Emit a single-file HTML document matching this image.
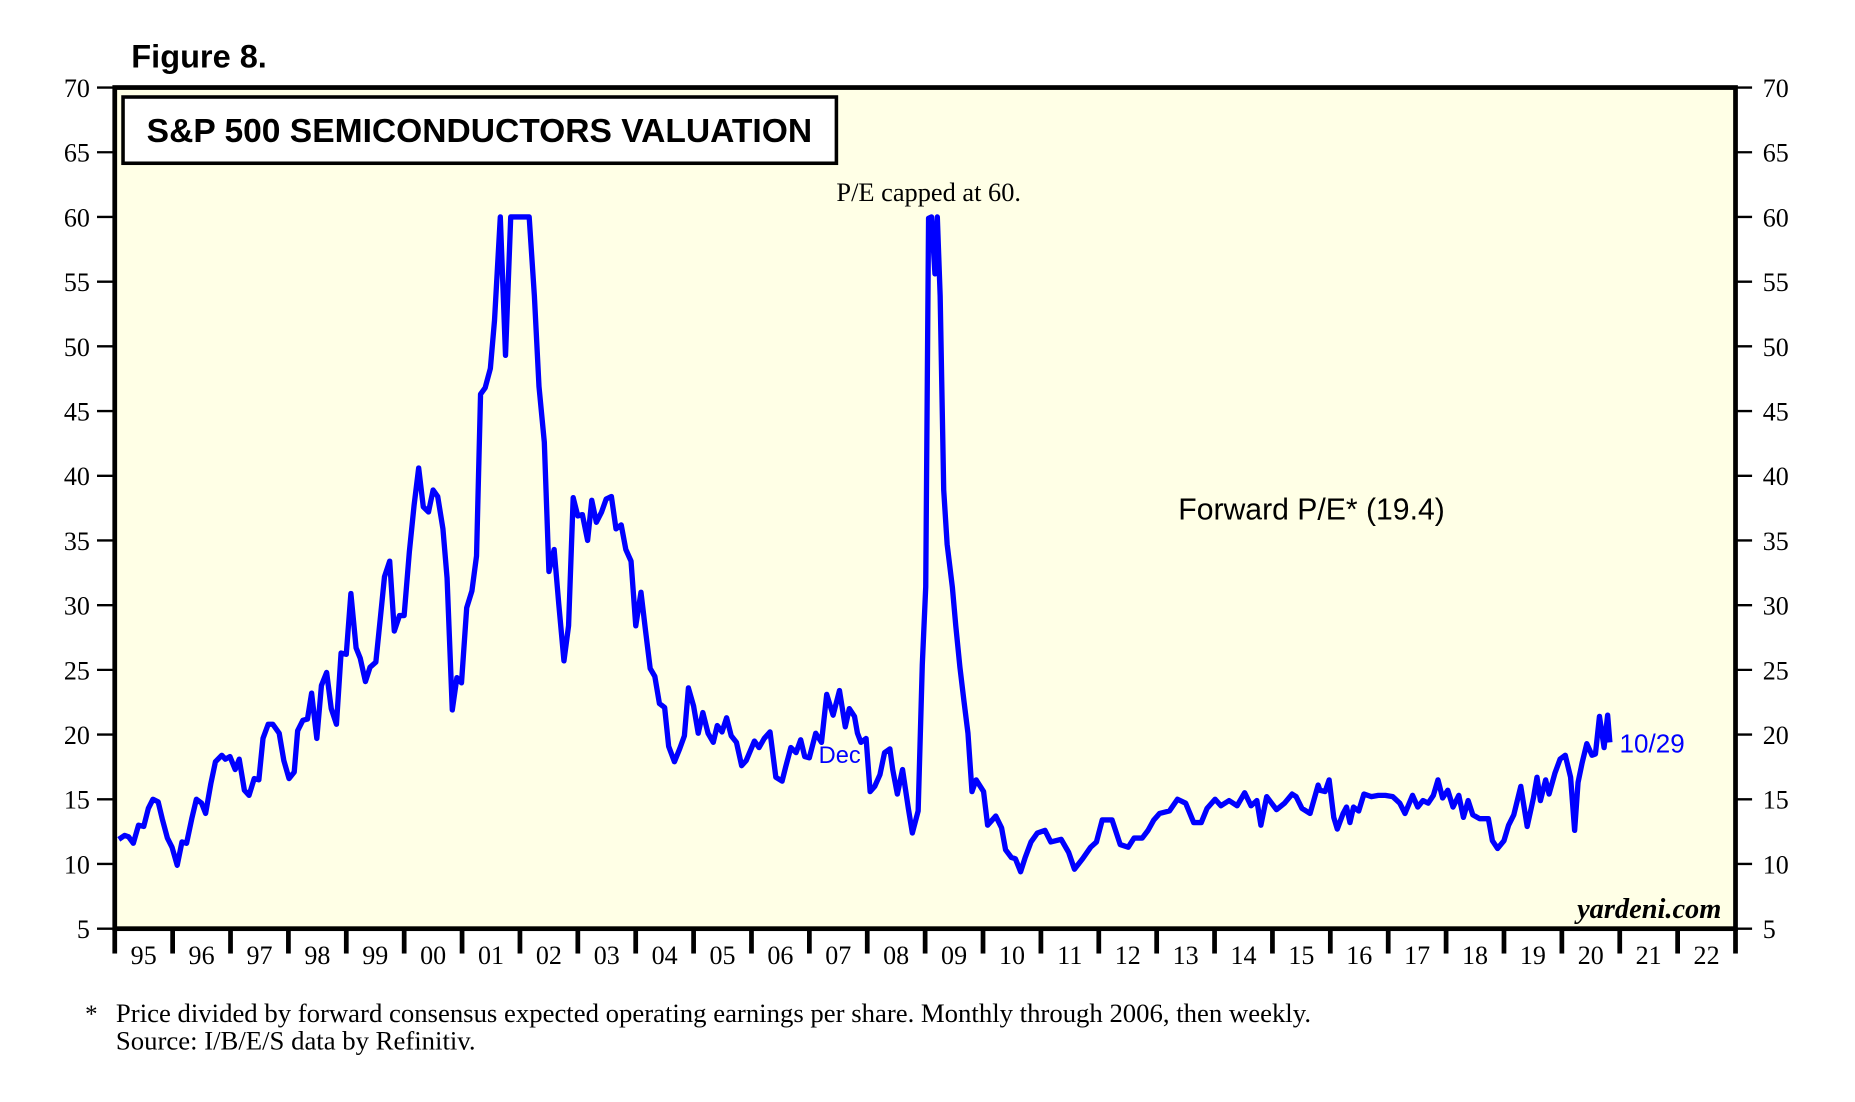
<!DOCTYPE html>
<html><head><meta charset="utf-8"><style>
html,body{margin:0;padding:0;background:#fff;}
svg{display:block;}
.serif{font-family:"Liberation Serif",serif;}
.sans{font-family:"Liberation Sans",sans-serif;}
</style></head><body>
<svg id="chart" width="1855" height="1102" viewBox="0 0 1568 931.5" preserveAspectRatio="none" xmlns="http://www.w3.org/2000/svg">
<text x="111" y="57" class="sans" font-size="27.5" font-weight="bold">Figure 8.</text>
<rect x="97" y="74" width="1370" height="711" fill="#ffffe6" stroke="none"/>
<g id="ticks"></g>
<path id="series" fill="none" stroke="#0000ff" stroke-width="4.5" stroke-linejoin="round"/>
<rect x="97" y="74" width="1370" height="711" fill="none" stroke="#000" stroke-width="4"/>
<rect x="104" y="82" width="603" height="56" fill="#fff" stroke="#000" stroke-width="3"/>
<text x="124" y="120" class="sans" font-size="28.4" font-weight="bold">S&amp;P 500 SEMICONDUCTORS VALUATION</text>
<text x="707" y="170" class="serif" font-size="22.3">P/E capped at 60.</text>
<text x="996" y="439" class="sans" font-size="25.5">Forward P/E* (19.4)</text>
<text x="692" y="645" class="sans" font-size="20" fill="#0000ff">Dec</text>
<text x="1369" y="636" class="sans" font-size="22" fill="#0000ff">10/29</text>
<text x="1455" y="776" text-anchor="end" class="serif" font-size="24" font-weight="bold" font-style="italic">yardeni.com</text>
<text x="72" y="864" class="serif" font-size="21">*</text>
<text x="98" y="864" class="serif" font-size="22.6">Price divided by forward consensus expected operating earnings per share. Monthly through 2006, then weekly.</text>
<text x="98" y="887" class="serif" font-size="22.6">Source: I/B/E/S data by Refinitiv.</text>
</svg>
<script>
const dates=[1995.07,1995.17,1995.24,1995.32,1995.41,1995.50,1995.58,1995.66,1995.75,1995.82,1995.91,1995.99,1996.08,1996.16,1996.24,1996.33,1996.41,1996.50,1996.57,1996.66,1996.74,1996.85,1996.91,1996.99,1997.08,1997.15,1997.24,1997.32,1997.41,1997.49,1997.56,1997.65,1997.73,1997.84,1997.92,1998.01,1998.10,1998.16,1998.25,1998.33,1998.40,1998.49,1998.57,1998.66,1998.74,1998.83,1998.91,1999.00,1999.08,1999.17,1999.24,1999.33,1999.41,1999.51,1999.59,1999.66,1999.75,1999.83,1999.92,2000.00,2000.09,2000.17,2000.25,2000.33,2000.42,2000.50,2000.58,2000.67,2000.74,2000.83,2000.91,2000.99,2001.08,2001.17,2001.25,2001.32,2001.40,2001.49,2001.56,2001.66,2001.75,2001.84,2002.01,2002.16,2002.25,2002.33,2002.42,2002.50,2002.59,2002.67,2002.76,2002.84,2002.92,2003.00,2003.08,2003.17,2003.24,2003.32,2003.41,2003.49,2003.58,2003.66,2003.75,2003.83,2003.92,2004.00,2004.09,2004.17,2004.25,2004.33,2004.41,2004.50,2004.57,2004.67,2004.76,2004.84,2004.91,2005.00,2005.08,2005.16,2005.25,2005.34,2005.41,2005.49,2005.57,
2005.65,2005.74,2005.83,2005.91,2006.05,2006.13,2006.22,2006.32,2006.42,2006.53,2006.59,2006.68,2006.77,2006.85,2006.92,2007.00,2007.11,2007.21,2007.30,2007.41,2007.52,2007.62,2007.69,2007.78,2007.83,2007.89,2007.98,2008.05,2008.13,2008.22,2008.30,2008.39,2008.44,2008.52,2008.61,2008.71,2008.78,2008.88,2008.95,2009.01,2009.06,2009.11,2009.17,2009.21,2009.26,2009.32,2009.38,2009.47,2009.53,2009.60,2009.67,2009.74,2009.81,2009.88,2010.01,2010.08,2010.22,2010.32,2010.39,2010.49,2010.56,2010.65,2010.73,2010.83,2010.94,2011.07,2011.17,2011.35,2011.48,2011.58,2011.72,2011.86,2011.96,2012.06,2012.23,2012.37,2012.51,2012.61,2012.75,2012.85,2012.95,2013.05,2013.22,2013.36,2013.50,2013.64,2013.77,2013.87,2014.01,2014.11,2014.25,2014.39,2014.52,2014.63,2014.73,2014.80,2014.90,2015.07,2015.21,2015.34,2015.41,2015.51,2015.65,2015.79,
2015.82,2015.91,2015.98,2016.06,2016.12,2016.22,2016.28,2016.34,2016.40,2016.49,2016.58,2016.71,2016.83,2016.95,2017.08,2017.20,2017.29,2017.42,2017.51,2017.60,2017.69,2017.78,2017.86,2017.94,2018.03,2018.12,2018.22,2018.30,2018.38,2018.46,2018.58,2018.73,2018.80,2018.89,2019.00,2019.08,2019.17,2019.29,2019.40,2019.51,2019.57,2019.63,2019.72,2019.78,2019.88,2019.97,2020.06,2020.15,2020.22,2020.28,2020.35,2020.43,2020.52,2020.58,2020.65,2020.73,2020.79,2020.83];
const peValues=[11.9,12.2,12.1,11.6,13.0,12.9,14.3,15.0,14.8,13.5,12.0,11.3,9.9,11.7,11.6,13.5,15.0,14.7,13.9,16.2,17.9,18.4,18.1,18.3,17.3,18.1,15.7,15.3,16.6,16.5,19.7,20.8,20.8,20.1,18.0,16.6,17.1,20.3,21.1,21.2,23.2,19.7,23.8,24.8,22.0,20.8,26.3,26.2,30.9,26.7,25.9,24.1,25.2,25.6,29.1,32.2,33.4,28.0,29.2,29.2,34.1,37.7,40.6,37.6,37.2,38.9,38.4,35.9,32.1,21.9,24.4,24.0,29.8,31.1,33.8,46.3,46.8,48.3,52.0,60,49.3,60,60,60,53.9,46.9,42.6,32.6,34.3,30.1,25.7,28.4,38.3,36.9,37.0,35.0,38.1,36.4,37.2,38.2,38.4,35.9,36.2,34.3,33.4,28.4,31.0,28.0,25.1,24.5,22.4,22.1,19.1,17.9,18.9,19.9,23.6,22.2,20.1,21.7,20.1,19.4,20.7,20.2,21.3,
19.9,19.4,17.6,18.0,19.5,19.0,19.7,20.2,16.7,16.4,17.5,19.0,18.6,19.6,18.3,18.2,20.1,19.4,23.1,21.5,23.4,20.6,22.0,21.4,20.1,19.4,19.7,15.6,16.0,16.9,18.6,18.9,17.3,15.4,17.3,14.3,12.4,14.1,25.4,31.4,59.9,60,55.6,60,53.9,38.9,34.7,31.4,28.4,25.2,22.6,20.1,15.6,16.5,15.6,13.0,13.7,12.8,11.1,10.5,10.4,9.4,10.5,11.7,12.4,12.6,11.7,11.9,10.9,9.6,10.4,11.3,11.7,13.4,13.4,11.5,11.3,12.0,12.0,12.6,13.4,13.9,14.1,15.0,14.7,13.2,13.2,14.3,15.0,14.5,14.9,14.5,15.5,14.5,14.9,13.0,15.2,14.2,14.7,15.4,15.2,14.3,13.9,16.1,
15.7,15.6,16.5,13.6,12.7,13.9,14.4,13.2,14.4,14.1,15.4,15.2,15.3,15.3,15.2,14.7,13.9,15.3,14.4,14.9,14.7,15.3,16.5,15.1,15.7,14.4,15.3,13.6,14.9,13.8,13.5,13.5,11.8,11.2,11.8,13.0,13.8,16.0,12.9,15.1,16.7,14.9,16.5,15.4,17.0,18.1,18.4,16.7,12.6,16.3,17.8,19.3,18.4,18.5,21.4,19.0,21.5,19.4];
const yTicks=[5,10,15,20,25,30,35,40,45,50,55,60,65,70];
const yearLabels=['95','96','97','98','99','00','01','02','03','04','05','06','07','08','09','10','11','12','13','14','15','16','17','18','19','20','21','22'];
const NS='http://www.w3.org/2000/svg';
const X0=97,X1=1467,Y0=785,Y1=74;
function xs(t){return X0+(t-1995)/(2023-1995)*(X1-X0);}
function ys(v){return Y0-(v-5)/(70-5)*(Y0-Y1);}
const g=document.getElementById('ticks');
function mk(tag,attrs){const e=document.createElementNS(NS,tag);for(const k in attrs)e.setAttribute(k,attrs[k]);return e;}
yTicks.forEach(v=>{
  const y=ys(v);
  const tl=mk('line',{x1:82,x2:97,y1:y,y2:y,stroke:'#000','stroke-width':2});
  
  
  g.appendChild(tl);
  const tr=mk('line',{x1:1467,x2:1481,y1:y,y2:y,stroke:'#000','stroke-width':2});
  
  
  g.appendChild(tr);
  const ll=mk('text',{x:76,y:y+8,'text-anchor':'end','font-size':22,'class':'serif'});
  ll.textContent=v;
  
  
  g.appendChild(ll);
  const lr=mk('text',{x:1490,y:y+8,'font-size':22,'class':'serif'});
  lr.textContent=v;
  
  
  g.appendChild(lr);
});
for(let i=0;i<=yearLabels.length;i++){
  const x=xs(1995+i);
  const t=mk('line',{x1:x,x2:x,y1:785,y2:806,stroke:'#000','stroke-width':4});
  
  
  g.appendChild(t);
  if(i<yearLabels.length){
    const l=mk('text',{x:xs(1995.5+i),y:815,'text-anchor':'middle','font-size':22,'class':'serif'});
    l.textContent=yearLabels[i];
    
    
    g.appendChild(l);
  }
}
let d='';
dates.forEach((t,i)=>{d+=(i?'L':'M')+xs(t).toFixed(1)+','+ys(peValues[i]).toFixed(1);});
document.getElementById('series').setAttribute('d',d);
</script>
</body></html>
